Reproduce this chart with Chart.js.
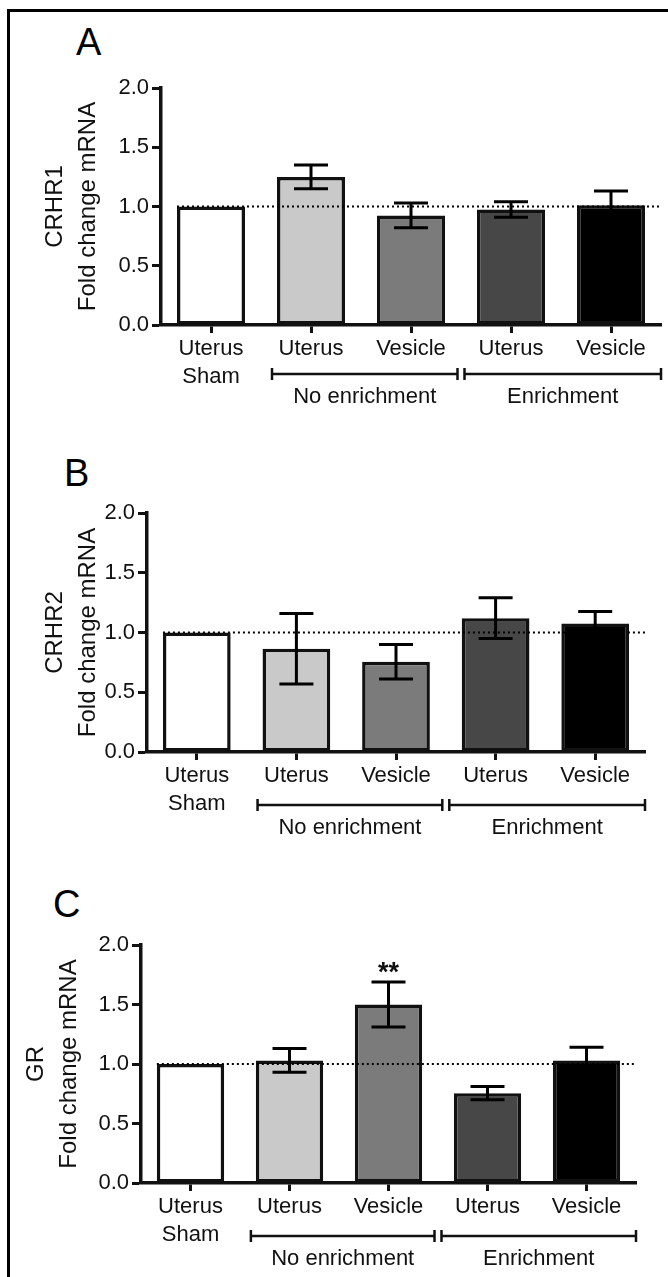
<!DOCTYPE html>
<html><head><meta charset="utf-8">
<script src="https://cdn.jsdelivr.net/npm/chart.js@4.4.1/dist/chart.umd.min.js"></script>
<style>
html,body{margin:0;padding:0;background:#fff;width:668px;height:1277px;overflow:hidden}
#frame{position:absolute;left:7px;top:9px;width:661px;height:1268px;border-top:3px solid #000;border-left:3px solid #000;box-sizing:border-box}
.letter{position:absolute;font-family:"Liberation Sans Narrow","Liberation Sans",Arial,sans-serif;font-size:38px;line-height:38px;color:#000}
canvas{position:absolute;left:0}
</style></head>
<body>
<div id="frame"></div>
<div class="letter" style="left:76px;top:23px">A</div>
<div class="letter" style="left:64px;top:454px">B</div>
<div class="letter" style="left:53px;top:885px">C</div>
<canvas id="cA" width="668" height="420" style="top:0"></canvas>
<canvas id="cB" width="668" height="420" style="top:420px"></canvas>
<canvas id="cC" width="668" height="437" style="top:840px"></canvas>
<script>
// ---- data ----
const categories = [['Uterus','Sham'],'Uterus','Vesicle','Uterus','Vesicle'];
const groupLabels = ['No enrichment','Enrichment'];
const groupMembers = [[1,2],[3,4]];
const yTickValues = [0,0.5,1.0,1.5,2.0];
const barColors = ['#ffffff','#c9c9c9','#7b7b7b','#474747','#000000'];
const crhr1Mean = [1.00,1.25,0.925,0.975,1.01];
const crhr1Sem  = [0,0.10,0.105,0.065,0.12];
const crhr2Mean = [1.00,0.865,0.755,1.12,1.075];
const crhr2Sem  = [0,0.295,0.145,0.17,0.10];
const grMean = [1.00,1.03,1.50,0.755,1.03];
const grSem  = [0,0.10,0.19,0.055,0.11];
const noMarks = ['','','','',''];
const grMarks = ['','','**','',''];
const referenceLevel = 1.0;

const FONT = '"Liberation Sans", Arial, sans-serif';
const INK = '#111';

const annot = {
  id:'annot',
  afterDatasetsDraw(chart, args, o){
    const ctx = chart.ctx, xs = chart.scales.x, ys = chart.scales.y, ca = chart.chartArea;
    const meta = chart.getDatasetMeta(0);
    const vals = chart.data.datasets[0].data;
    ctx.save();
    // error bars
    ctx.strokeStyle = '#000'; ctx.lineWidth = 3; ctx.lineCap = 'butt';
    meta.data.forEach((bar,i)=>{
      const s = o.sem[i]; if(!s) return;
      const {x} = bar.getProps(['x'], true);
      const yt = ys.getPixelForValue(vals[i]+s), yb = ys.getPixelForValue(vals[i]-s);
      const cw = 17;
      ctx.beginPath();
      ctx.moveTo(x,yt); ctx.lineTo(x,yb);
      ctx.moveTo(x-cw,yt); ctx.lineTo(x+cw,yt);
      ctx.moveTo(x-cw,yb); ctx.lineTo(x+cw,yb);
      ctx.stroke();
    });
    // reference dotted line
    const yr = ys.getPixelForValue(o.ref);
    const b0 = meta.data[0].getProps(['x','width'], true);
    ctx.setLineDash([2,3]); ctx.lineWidth = 2; ctx.strokeStyle = '#000';
    ctx.beginPath(); ctx.moveTo(b0.x - b0.width/2, yr); ctx.lineTo(ca.right, yr); ctx.stroke();
    ctx.setLineDash([]);
    // significance marks
    ctx.fillStyle = INK; ctx.textAlign = 'center'; ctx.textBaseline = 'alphabetic';
    ctx.font = 'bold 27px ' + FONT;
    o.marks.forEach((m,i)=>{
      if(!m) return;
      const {x} = meta.data[i].getProps(['x'], true);
      ctx.fillText(m, x, ys.getPixelForValue(vals[i]+o.sem[i]) - 1);
    });
    // group brackets
    const catW = xs.getPixelForValue(1) - xs.getPixelForValue(0);
    const yb = ca.bottom + o.bracketOffset;
    const segs = groupMembers.map((g,k)=>{
      const first = xs.getPixelForValue(g[0]), last = xs.getPixelForValue(g[g.length-1]);
      let a, b;
      if(k===0){ a = first - 0.39*catW; b = last + catW/2 - 3.5; }
      else { a = first - catW/2 + 3.5; b = ca.right; }
      return [a,b];
    });
    ctx.strokeStyle = '#111'; ctx.lineWidth = 2.5;
    ctx.font = '22px ' + FONT; ctx.textBaseline = 'middle';
    segs.forEach(([a,b],k)=>{
      ctx.beginPath();
      ctx.moveTo(a,yb); ctx.lineTo(b,yb);
      ctx.moveTo(a,yb-6); ctx.lineTo(a,yb+6);
      ctx.moveTo(b,yb-6); ctx.lineTo(b,yb+6);
      ctx.stroke();
      ctx.fillText(groupLabels[k], (a+b)/2, yb + 23);
    });
    ctx.restore();
  }
};

const panels = [
  {id:'cA', gene:'CRHR1', mean:crhr1Mean, sem:crhr1Sem, marks:noMarks, left:161, top:88, right:7, xh:95, titlePad:38.5, bracketOffset:49},
  {id:'cB', gene:'CRHR2', mean:crhr2Mean, sem:crhr2Sem, marks:noMarks, left:147, top:93, right:23, xh:88, titlePad:38.5, bracketOffset:53},
  {id:'cC', gene:'GR', mean:grMean, sem:grSem, marks:grMarks, left:141, top:105, right:32, xh:94, titlePad:19.5, bracketOffset:53}
];

panels.forEach(p=>{
  new Chart(document.getElementById(p.id), {
    type:'bar',
    data:{labels:categories, datasets:[{data:p.mean, backgroundColor:barColors, borderColor:'#111', borderWidth:3.5, borderSkipped:false, barPercentage:0.68, categoryPercentage:1}]},
    options:{
      responsive:false, animation:false, devicePixelRatio:1,
      layout:{padding:{left:0, top:p.top, right:p.right, bottom:0}},
      plugins:{legend:{display:false}, tooltip:{enabled:false},
        annot:{sem:p.sem, marks:p.marks, ref:referenceLevel, bracketOffset:p.bracketOffset}},
      scales:{
        x:{type:'category', offset:true,
          grid:{display:true, offset:false, drawOnChartArea:false, drawTicks:true, tickLength:8, tickWidth:3, tickColor:'#111'},
          border:{display:true, color:'#111', width:3.5},
          ticks:{color:INK, font:{family:FONT, size:22, lineHeight:1.27}, padding:2, autoSkip:false, maxRotation:0, minRotation:0},
          afterFit:s=>{s.height = p.xh;}
        },
        y:{min:0, max:2,
          afterBuildTicks:s=>{s.ticks = yTickValues.map(v=>({value:v}));},
          grid:{display:true, drawOnChartArea:false, drawTicks:true, tickLength:9, tickWidth:3, tickColor:'#111'},
          border:{display:true, color:'#111', width:3.5},
          ticks:{color:INK, font:{family:FONT, size:22}, padding:3, callback:v=>Number(v).toFixed(1)},
          title:{display:true, text:[p.gene,'Fold change mRNA'], color:INK, font:{family:FONT, size:24, lineHeight:1.38}, padding:{top:p.titlePad, bottom:0}},
          afterFit:s=>{s.width = p.left;}
        }
      }
    },
    plugins:[annot]
  });
});
</script>
</body></html>
